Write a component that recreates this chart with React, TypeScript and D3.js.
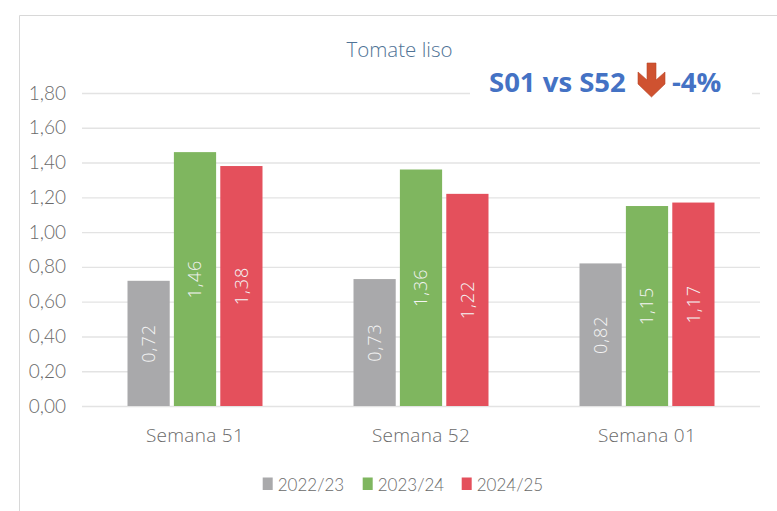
import React, { useEffect, useRef } from 'react';
import * as d3 from 'd3';

const categories = ['Semana 51', 'Semana 52', 'Semana 01'];
const seasons = ['2022/23', '2023/24', '2024/25'];
const values2223 = [0.72, 0.73, 0.82];
const values2324 = [1.46, 1.36, 1.15];
const values2425 = [1.38, 1.22, 1.17];
const yTicks = [0, 0.2, 0.4, 0.6, 0.8, 1.0, 1.2, 1.4, 1.6, 1.8];
const COLORS = ['#a9a9ab', '#7fb65f', '#e4505c'];

const FONT = '"Open Sans", sans-serif';
const NUM_FONT = 'Lato, "Open Sans", sans-serif';
const WIDTH = 777;
const HEIGHT = 511;
const fmt = (v: number) => v.toFixed(2).replace('.', ',');

export default function App() {
  const svgRef = useRef<SVGSVGElement>(null);

  useEffect(() => {
    document.body.style.margin = '0';
    const svg = d3.select(svgRef.current);
    svg.selectAll('*').remove();

    const margin = { top: 93, right: 17, bottom: 105, left: 82 };
    const innerW = WIDTH - margin.left - margin.right;
    const innerH = HEIGHT - margin.top - margin.bottom;

    // chart frame, only left and top edges show in the crop
    svg.append('path')
      .attr('d', `M19.5,${HEIGHT} V15.5 H${WIDTH}`)
      .attr('fill', 'none')
      .attr('stroke', '#d8d8d8');

    const g = svg.append('g').attr('transform', `translate(${margin.left}, ${margin.top})`);

    const x0 = d3.scaleBand().domain(categories).range([0, innerW]);
    const x1 = d3.scaleBand().domain(seasons).range([0, 135]).paddingInner(0.09);
    const y = d3.scaleLinear().domain([0, 1.8]).range([innerH, 0]);

    const yAxis = g.append('g').call(
      d3.axisLeft(y).tickValues(yTicks).tickSize(-innerW).tickPadding(16).tickFormat(d => fmt(Number(d)))
    );
    yAxis.select('.domain').remove();
    yAxis.selectAll('line').attr('stroke', '#e3e3e3').attr('stroke-width', 1.4);
    yAxis.selectAll('text')
      .attr('fill', '#6a6a6a')
      .style('font-family', NUM_FONT)
      .style('font-size', '19px')
      .style('font-weight', 300);

    const xAxis = g.append('g').attr('transform', `translate(0, ${innerH})`).call(
      d3.axisBottom(x0).tickSize(0).tickPadding(23)
    );
    xAxis.select('.domain').remove();
    xAxis.selectAll('text')
      .attr('fill', '#6a6a6a')
      .style('font-family', FONT)
      .style('font-size', '19px')
      .style('letter-spacing', '0.3px')
      .style('font-weight', 300);

    const series = [values2223, values2324, values2425];
    series.forEach((values, s) => {
      values.forEach((v, i) => {
        const bx = x0(categories[i])! + x0.bandwidth() / 2 - 67.5 + x1(seasons[s])!;
        g.append('rect')
          .attr('x', bx)
          .attr('y', y(v))
          .attr('width', x1.bandwidth())
          .attr('height', innerH - y(v))
          .attr('fill', COLORS[s]);
        const cx = bx + x1.bandwidth() / 2;
        const cy = y(v / 2);
        g.append('text')
          .attr('transform', `translate(${cx}, ${cy}) rotate(-90)`)
          .attr('text-anchor', 'middle')
          .attr('dy', '0.35em')
          .attr('fill', '#f4f4f4')
          .style('font-family', FONT)
          .style('font-size', '18px')
          .style('letter-spacing', '1px')
          .style('font-weight', 300)
          .text(fmt(v));
      });
    });

    svg.append('text')
      .attr('x', 399.5)
      .attr('y', 57)
      .attr('text-anchor', 'middle')
      .attr('fill', '#4f7396')
      .style('font-family', FONT)
      .style('font-size', '20.5px')
      .style('font-weight', 300)
      .text('Tomate liso');

    // white patch behind the annotation, covers the top gridline
    svg.append('rect').attr('x', 470).attr('y', 62).attr('width', 282).attr('height', 38).attr('fill', '#fff');

    const note = svg.append('g').style('font-family', FONT).style('font-size', '27.5px').style('font-weight', 700).attr('fill', '#4472c4');
    note.append('text').attr('x', 489).attr('y', 92).text('S01 vs S52');
    note.append('text').attr('x', 672).attr('y', 92).text('-4%');

    svg.append('path')
      .attr('d', 'M647,63 H656 V80 L665,72 V84 L651.5,97 L638,84 V72 L647,80 Z')
      .attr('fill', '#cf5230')
      .attr('stroke', '#b8472a')
      .attr('stroke-width', 0.6);

    const legendX = [262.7, 362.7, 461.7];
    seasons.forEach((s, i) => {
      svg.append('rect')
        .attr('x', legendX[i])
        .attr('y', 477.5)
        .attr('width', 10)
        .attr('height', 12.5)
        .attr('fill', COLORS[i]);
      svg.append('text')
        .attr('x', legendX[i] + 15)
        .attr('y', 490.5)
        .attr('fill', '#6a6a6a')
        .style('font-family', NUM_FONT)
        .style('font-size', '17px')
        .style('font-weight', 300)
        .text(s);
    });
  }, []);

  return <svg ref={svgRef} width={WIDTH} height={HEIGHT} style={{ display: 'block', background: '#fff' }} />;
}
